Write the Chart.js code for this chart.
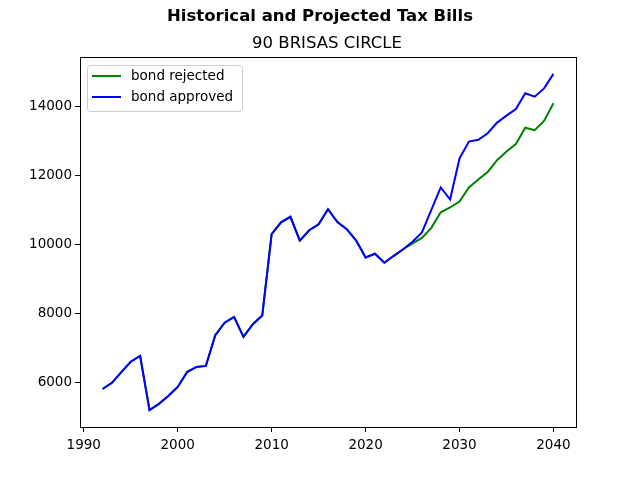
<!DOCTYPE html>
<html>
<head>
<meta charset="utf-8">
<script src="https://cdn.jsdelivr.net/npm/chart.js@4/dist/chart.umd.min.js"></script>
<style>
html,body{margin:0;padding:0;background:#fff;}
#wrap{width:640px;height:480px;}
</style>
</head>
<body>
<div id="wrap"><canvas id="c" width="640" height="480"></canvas></div>
<script>
const years = [1992,1993,1994,1995,1996,1997,1998,1999,2000,2001,2002,2003,2004,2005,2006,2007,2008,2009,2010,2011,2012,2013,2014,2015,2016,2017,2018,2019,2020,2021,2022,2023,2024,2025,2026,2027,2028,2029,2030,2031,2032,2033,2034,2035,2036,2037,2038,2039,2040];
const bondRejected = [5800,5980,6290,6590,6760,5190,5370,5600,5860,6290,6440,6470,7360,7720,7890,7310,7680,7930,10290,10630,10790,10100,10400,10570,11010,10640,10430,10100,9610,9720,9460,9660,9850,10020,10180,10470,10920,11060,11230,11640,11870,12090,12430,12680,12900,13370,13300,13570,14080];
const bondApproved = [5800,5980,6290,6590,6760,5190,5370,5600,5860,6290,6440,6470,7360,7720,7890,7310,7680,7930,10290,10630,10790,10100,10400,10570,11010,10640,10430,10100,9610,9720,9460,9660,9850,10070,10340,10990,11640,11290,12480,12970,13020,13210,13520,13720,13910,14370,14270,14510,14930];
const seriesLabels = ["bond rejected","bond approved"];
const titleText = "Historical and Projected Tax Bills";
const subtitleText = "90 BRISAS CIRCLE";
const xTicks = [1990,2000,2010,2020,2030,2040];
const yTicks = [6000,8000,10000,12000,14000];

const FONT = "'DejaVu Sans', sans-serif";

const toXY = (vals) => years.map((y,i)=>({x:y,y:vals[i]}));

const framePlugin = {
  id:'frame',
  afterDatasetsDraw(chart){
    const {ctx, chartArea:a} = chart;
    ctx.save();
    ctx.strokeStyle='#000'; ctx.lineWidth=1;
    ctx.strokeRect(Math.round(a.left)+0.5, Math.round(a.top)+0.5, Math.round(a.right-a.left), Math.round(a.bottom-a.top));
    // legend
    const lx=87.5, ly=65.5, lw=155, lh=46, r=3;
    ctx.fillStyle='rgba(255,255,255,0.8)';
    ctx.strokeStyle='#cccccc';
    ctx.beginPath();
    ctx.moveTo(lx+r,ly); ctx.lineTo(lx+lw-r,ly); ctx.arcTo(lx+lw,ly,lx+lw,ly+r,r);
    ctx.lineTo(lx+lw,ly+lh-r); ctx.arcTo(lx+lw,ly+lh,lx+lw-r,ly+lh,r);
    ctx.lineTo(lx+r,ly+lh); ctx.arcTo(lx,ly+lh,lx,ly+lh-r,r);
    ctx.lineTo(lx,ly+r); ctx.arcTo(lx,ly,lx+r,ly,r);
    ctx.closePath(); ctx.fill(); ctx.stroke();
    const items = chart.data.datasets;
    const rows=[76,97];
    items.forEach((ds,i)=>{
      ctx.strokeStyle=ds.borderColor; ctx.lineWidth=2;
      ctx.beginPath(); ctx.moveTo(92,rows[i]); ctx.lineTo(121,rows[i]); ctx.stroke();
      ctx.fillStyle='#000'; ctx.font='13.5px '+FONT; ctx.textBaseline='middle'; ctx.textAlign='left';
      ctx.fillText(ds.label,131,rows[i]);
    });
    // titles
    ctx.textAlign='center'; ctx.textBaseline='middle'; ctx.fillStyle='#000';
    ctx.font='bold 16.5px '+FONT;
    ctx.fillText(titleText,320,17);
    ctx.font='16.5px '+FONT;
    ctx.fillText(subtitleText,327,44);
    ctx.restore();
  }
};

new Chart(document.getElementById('c'),{
  type:'line',
  data:{
    datasets:[
      {label:seriesLabels[0],data:toXY(bondRejected),borderColor:'#008000',borderWidth:2,pointRadius:0,tension:0,fill:false,order:1},
      {label:seriesLabels[1],data:toXY(bondApproved),borderColor:'#0000ff',borderWidth:2,pointRadius:0,tension:0,fill:false,order:0}
    ]
  },
  options:{
    responsive:false,
    animation:false,
    devicePixelRatio:1,
    layout:{padding:{left:0,right:64,top:57,bottom:20}},
    plugins:{legend:{display:false},tooltip:{enabled:false},title:{display:false}},
    scales:{
      x:{
        type:'linear',min:1989.6,max:2042.4,
        afterBuildTicks(s){s.ticks=xTicks.map(v=>({value:v}));},
        afterFit(s){s.height=33;},
        grid:{drawOnChartArea:false,drawTicks:true,tickLength:5,color:'#000',tickColor:'#000'},
        border:{display:false},
        ticks:{color:'#000',font:{family:FONT,size:13.5},padding:5,maxRotation:0,callback:v=>String(v)}
      },
      y:{
        type:'linear',min:4700,max:15420,
        afterBuildTicks(s){s.ticks=yTicks.map(v=>({value:v}));},
        afterFit(s){s.width=80;},
        grid:{drawOnChartArea:false,drawTicks:true,tickLength:5,color:'#000',tickColor:'#000'},
        border:{display:false},
        ticks:{color:'#000',font:{family:FONT,size:13.5},padding:3,callback:v=>String(v)}
      }
    }
  },
  plugins:[framePlugin]
});
</script>
</body>
</html>
